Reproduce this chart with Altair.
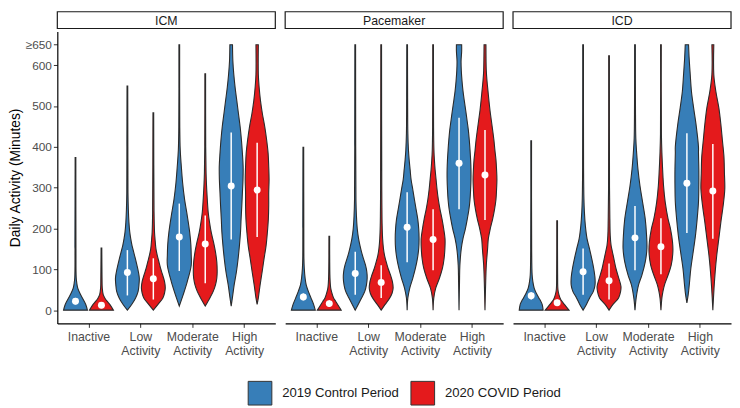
import altair as alt
import pandas as pd

FONT = "Liberation Sans"
DEVICES = ["ICM", "Pacemaker", "ICD"]
CATEGORIES = ["Inactive", "Low Activity", "Moderate Activity", "High Activity"]
PERIODS = ["2019 Control Period", "2020 COVID Period"]
COLORS = ["#377EB8", "#E41A1C"]
Y_TICKS = [0, 100, 200, 300, 400, 500, 600, 650]
Y_TICK_LABELS = ["0", "100", "200", "300", "400", "500", "600", "≥650"]

# violin profiles: (minutes, relative half-width)
icm_inactive_2019 = ([0, 14, 30, 42, 54, 66, 80, 150, 374], [1.0, .86, .58, .36, .19, .11, .06, .04, .03])
icm_inactive_2020 = ([0, 14, 22, 30, 38, 54, 80, 152], [1.0, .7, .47, .28, .15, .07, .05, .03])
icm_low_2019 = ([0, 14, 30, 46, 62, 78, 94, 110, 126, 142, 158, 175, 191, 215, 247, 287, 400, 549],
                [0, .36, .69, .9, .97, 1.0, .92, .8, .67, .53, .39, .28, .2, .13, .08, .05, .04, .03])
icm_low_2020 = ([0, 14, 30, 42, 54, 70, 86, 102, 118, 134, 150, 175, 191, 240, 483],
                [0, .39, .8, .94, 1.0, .94, .78, .61, .47, .33, .22, .14, .1, .06, .03])
icm_mod_2019 = ([10, 38, 70, 110, 135, 160, 191, 231, 272, 312, 352, 392, 450, 650],
                [0, .33, .67, 1.0, 1.0, .97, .87, .67, .44, .28, .17, .08, .04, .03])
icm_mod_2020 = ([10, 30, 46, 62, 78, 94, 118, 142, 167, 191, 215, 239, 272, 304, 336, 400, 579],
                [0, .39, .67, .86, .97, 1.0, .97, .86, .69, .5, .36, .25, .17, .11, .07, .04, .03])
icm_high_2019 = ([10, 30, 62, 94, 126, 158, 191, 223, 256, 288, 320, 352, 384, 416, 449, 481, 513, 545, 577, 610, 650],
                 [0, .1, .25, .44, .58, .69, .78, .83, .89, .94, .99, 1.0, .94, .86, .75, .61, .47, .33, .22, .14, .11])
icm_high_2020 = ([14, 30, 62, 94, 126, 158, 191, 223, 256, 288, 320, 352, 384, 416, 449, 481, 513, 545, 577, 650],
                 [0, .1, .25, .42, .58, .75, .86, .94, .97, .97, 1.0, .97, .92, .8, .64, .44, .28, .17, .1, .1])

pm_inactive_2019 = ([0, 14, 30, 46, 62, 78, 102, 126, 200, 399], [1.0, .86, .64, .42, .24, .15, .08, .05, .04, .03])
pm_inactive_2020 = ([0, 14, 22, 30, 42, 54, 78, 181], [1.0, .7, .53, .36, .22, .12, .06, .03])
pm_low_2019 = ([0, 14, 30, 46, 62, 78, 94, 110, 126, 142, 159, 175, 199, 231, 271, 400, 650],
               [0, .25, .53, .8, .94, 1.0, .97, .86, .69, .53, .39, .28, .17, .1, .06, .04, .03])
pm_low_2020 = ([0, 14, 30, 42, 54, 70, 86, 102, 118, 134, 151, 175, 207, 300, 650],
               [0, .33, .72, .92, 1.0, .94, .78, .58, .42, .28, .19, .12, .08, .05, .03])
pm_mod_2019 = ([0, 30, 54, 78, 102, 126, 151, 175, 199, 223, 247, 271, 296, 320, 344, 368, 392, 433, 520, 650],
               [0, .06, .22, .47, .69, .86, .97, 1.0, .97, .89, .75, .61, .47, .33, .25, .17, .11, .06, .04, .03])
pm_mod_2020 = ([0, 30, 54, 78, 102, 126, 151, 175, 199, 223, 247, 271, 296, 320, 344, 368, 392, 450, 650],
               [0, .06, .22, .53, .78, .92, .99, 1.0, .89, .75, .58, .44, .33, .25, .17, .11, .07, .04, .03])
pm_high_2019 = ([0, 70, 110, 151, 175, 199, 223, 247, 271, 296, 320, 344, 368, 392, 416, 441, 465, 489, 513, 537, 561, 586, 610, 634, 650],
                [0, .04, .07, .19, .33, .53, .69, .83, .92, .97, 1.0, 1.0, .97, .92, .86, .78, .67, .56, .44, .33, .25, .19, .17, .22, .22])
pm_high_2020 = ([0, 70, 110, 151, 175, 199, 223, 247, 271, 296, 320, 344, 368, 392, 416, 441, 465, 489, 513, 537, 561, 586, 650],
                [0, .06, .11, .22, .28, .44, .64, .8, .92, .97, 1.0, .97, .92, .83, .75, .64, .53, .42, .33, .25, .17, .11, .08])

icd_inactive_2019 = ([0, 14, 22, 30, 42, 54, 70, 86, 150, 415], [1.0, .92, .8, .64, .42, .25, .14, .08, .04, .03])
icd_inactive_2020 = ([0, 10, 18, 26, 38, 50, 90, 219], [1.0, .72, .5, .3, .15, .07, .04, .03])
icd_low_2019 = ([0, 14, 30, 46, 62, 78, 102, 127, 151, 175, 207, 240, 272, 350, 650],
                [0, .28, .55, .86, 1.0, 1.0, .89, .72, .53, .33, .19, .11, .07, .04, .03])
icd_low_2020 = ([0, 14, 30, 46, 58, 78, 102, 127, 143, 159, 183, 223, 300, 623],
                [0, .33, .8, .97, 1.0, .82, .58, .4, .28, .17, .1, .07, .04, .03])
icd_mod_2019 = ([0, 30, 62, 86, 118, 151, 183, 223, 264, 304, 345, 385, 420, 500, 650],
                [0, .1, .3, .58, .86, 1.0, .97, .86, .64, .42, .25, .14, .07, .04, .03])
icd_mod_2020 = ([0, 30, 46, 62, 86, 110, 143, 167, 199, 223, 264, 304, 345, 385, 430, 650],
                [0, .08, .17, .3, .6, .86, 1.0, .97, .8, .6, .36, .22, .14, .08, .04, .03])
icd_high_2019 = ([18, 38, 62, 102, 143, 183, 223, 264, 304, 345, 385, 400, 456, 496, 536, 577, 617, 650],
                 [0, .11, .2, .33, .53, .72, .86, .97, 1.0, 1.0, .97, .97, .76, .56, .38, .28, .19, .14])
icd_high_2020 = ([0, 54, 95, 135, 175, 215, 255, 296, 336, 376, 416, 456, 496, 536, 577, 650],
                 [0, .1, .2, .33, .5, .67, .86, 1.0, .97, .93, .8, .67, .5, .25, .08, .08])

# summaries, order: Inactive 2019, Inactive 2020, Low 2019, Low 2020, Moderate 2019, Moderate 2020, High 2019, High 2020
icm_median = [22, 12, 92, 77, 179, 162, 304, 294]
icm_q1 = [14, 5, 36, 26, 96, 66, 173, 179]
icm_q3 = [30, 20, 147, 127, 261, 232, 435, 410]
pm_median = [32, 16, 90, 68, 203, 173, 360, 331]
pm_q1 = [24, 8, 38, 30, 117, 98, 247, 221]
pm_q3 = [41, 24, 143, 110, 289, 247, 471, 441]
icd_median = [35, 18, 94, 72, 177, 155, 311, 292]
icd_q1 = [26, 10, 38, 26, 98, 88, 189, 175]
icd_q3 = [44, 26, 151, 114, 255, 225, 433, 407]

PROFILES = {
    "ICM": [icm_inactive_2019, icm_inactive_2020, icm_low_2019, icm_low_2020,
            icm_mod_2019, icm_mod_2020, icm_high_2019, icm_high_2020],
    "Pacemaker": [pm_inactive_2019, pm_inactive_2020, pm_low_2019, pm_low_2020,
                  pm_mod_2019, pm_mod_2020, pm_high_2019, pm_high_2020],
    "ICD": [icd_inactive_2019, icd_inactive_2020, icd_low_2019, icd_low_2020,
            icd_mod_2019, icd_mod_2020, icd_high_2019, icd_high_2020],
}
SUMMARIES = {
    "ICM": (icm_median, icm_q1, icm_q3),
    "Pacemaker": (pm_median, pm_q1, pm_q3),
    "ICD": (icd_median, icd_q1, icd_q3),
}

prof_rows, summ_rows = [], []
for dev in DEVICES:
    med, q1, q3 = SUMMARIES[dev]
    for k, (vals, ws) in enumerate(PROFILES[dev]):
        cat = k // 2 + 1
        per = PERIODS[k % 2]
        vid = f"{dev}-{k}"
        for v, w in sorted(zip(vals, ws)):
            prof_rows.append({"device": dev, "cat": cat, "period": per, "vid": vid, "value": v, "w": w})
        summ_rows.append({"device": dev, "cat": cat, "period": per,
                          "median": med[k], "q1": q1[k], "q3": q3[k]})
prof_df = pd.DataFrame(prof_rows)
summ_df = pd.DataFrame(summ_rows)

W, H, STRIP_H = 221, 296, 17
DODGE, HALF = 0.25, 0.23

x_label_expr = "[" + ",".join(
    "[" + ",".join(f"'{p}'" for p in c.split(" ")) + "]" for c in CATEGORIES) + "][datum.value - 1]"
y_label_expr = ("[" + ",".join(f"'{l}'" for l in Y_TICK_LABELS) + "][indexof(["
                + ",".join(str(t) for t in Y_TICKS) + "], datum.value)]")

xscale = alt.Scale(domain=[0.4, 4.6], nice=False, zero=False)
yscale = alt.Scale(domain=[-32.5, 682.5], nice=False, zero=False)
xaxis = alt.Axis(values=[1, 2, 3, 4], labelExpr=x_label_expr, title=None, grid=False,
                 labelFont=FONT, labelFontSize=12.5, labelColor="#4D4D4D", labelLineHeight=15,
                 labelBaseline="top", labelPadding=3, labelOverlap=False, labelFlush=False,
                 tickSize=4, tickColor="#333333", domainColor="#000000", domainWidth=1.2)
yaxis_on = alt.Axis(values=Y_TICKS, labelExpr=y_label_expr, title="Daily Activity (Minutes)",
                    grid=False, labelFont=FONT, labelFontSize=12, labelColor="#4D4D4D",
                    labelPadding=2, tickSize=4, tickColor="#333333", domainColor="#000000",
                    domainWidth=1.2, titleFont=FONT, titleFontSize=14, titleFontWeight="normal",
                    titleColor="#000000", titlePadding=3, labelOverlap=False, labelFlush=False)
legend = alt.Legend(title=None, orient="none", legendX=193, legendY=374, direction="horizontal",
                    symbolType="square", symbolSize=576, symbolStrokeColor="#333333",
                    symbolStrokeWidth=1, symbolOpacity=1, labelFont=FONT, labelFontSize=13.3,
                    labelColor="#1a1a1a", labelOffset=10, columnPadding=9, padding=0)


def panel(dev, first):
    yaxis = yaxis_on if first else None
    base = alt.Chart(prof_df[prof_df.device == dev]).transform_calculate(
        center=f"datum.cat + (datum.period == '{PERIODS[0]}' ? -{DODGE} : {DODGE})"
    ).transform_calculate(
        xl=f"datum.center - datum.w * {HALF}",
        xr=f"datum.center + datum.w * {HALF}",
    )
    area = base.mark_area(orient="horizontal", interpolate="catmull-rom", stroke="#2b2b2b",
                          strokeWidth=1.1, opacity=1, order=False).encode(
        y=alt.Y("value:Q", scale=yscale, axis=yaxis),
        x=alt.X("xl:Q", scale=xscale, axis=xaxis, stack=None),
        x2="xr:Q",
        fill=alt.Fill("period:N", scale=alt.Scale(domain=PERIODS, range=COLORS), legend=legend),
        detail="vid:N",
    )
    sbase = alt.Chart(summ_df[summ_df.device == dev]).transform_calculate(
        center=f"datum.cat + (datum.period == '{PERIODS[0]}' ? -{DODGE} : {DODGE})"
    )
    rule = sbase.mark_rule(color="white", strokeWidth=1.5).encode(
        x=alt.X("center:Q", scale=xscale, axis=xaxis),
        y=alt.Y("q1:Q", scale=yscale, axis=yaxis),
        y2="q3:Q",
    )
    dots = sbase.mark_circle(color="white", size=50, opacity=1).encode(
        x=alt.X("center:Q", scale=xscale, axis=xaxis),
        y=alt.Y("median:Q", scale=yscale, axis=yaxis),
    )
    plot = alt.layer(area, rule, dots).properties(width=W, height=H)

    sdf = pd.DataFrame({"device": [dev]})
    box = alt.Chart(sdf).mark_rect(fill="white", stroke="#1a1a1a", strokeWidth=1.2).encode(
        x=alt.value(0), x2=alt.value(W), y=alt.value(0), y2=alt.value(STRIP_H))
    txt = alt.Chart(sdf).mark_text(font=FONT, fontSize=12.5, color="#1a1a1a", baseline="middle").encode(
        x=alt.value(W / 2), y=alt.value(STRIP_H / 2 + 0.5), text="device:N")
    strip = alt.layer(box, txt).properties(width=W, height=STRIP_H)
    return alt.vconcat(strip, plot, spacing=2)


chart = alt.hconcat(*[panel(d, i == 0) for i, d in enumerate(DEVICES)], spacing=8).properties(
    padding=0, background="white"
).configure_view(stroke=None)

chart.save("out.html", embed_options={"renderer": "svg", "actions": False})
